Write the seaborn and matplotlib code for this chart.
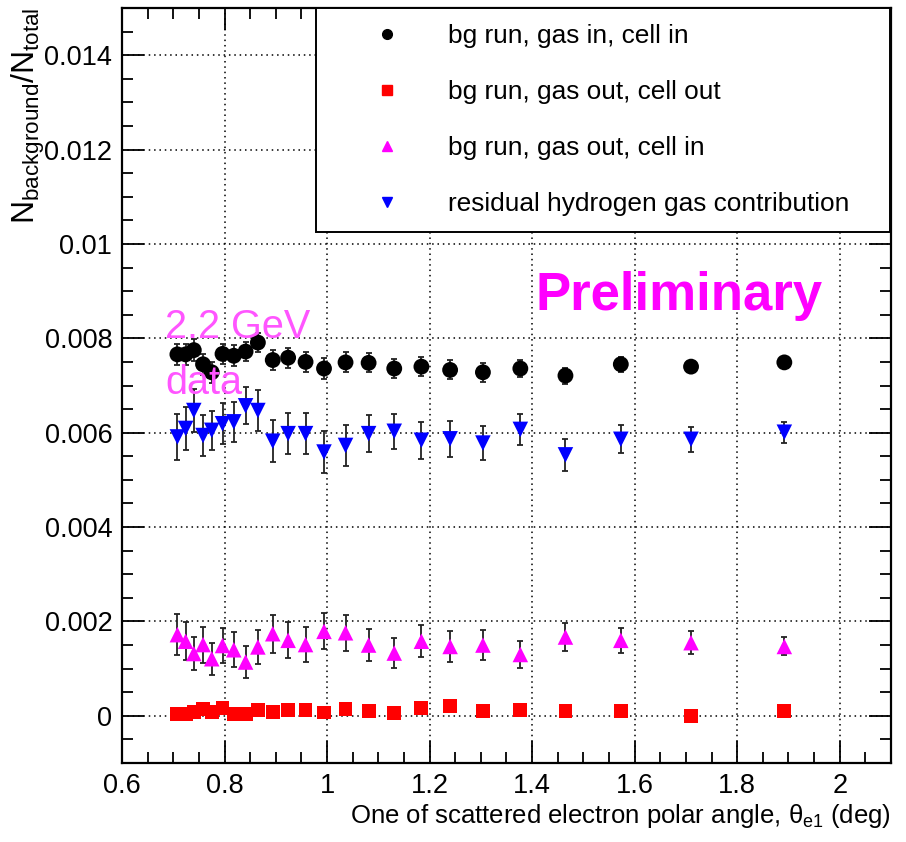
import numpy as np
import pandas as pd
import matplotlib
matplotlib.use("Agg")
import matplotlib.pyplot as plt
from matplotlib.lines import Line2D
from matplotlib.ticker import MultipleLocator
import seaborn as sns

# scattered electron polar angle (deg)
theta = [0.708, 0.724, 0.740, 0.758, 0.775, 0.796, 0.818, 0.841, 0.865, 0.894, 0.924, 0.958,
         0.994, 1.036, 1.081, 1.131, 1.184, 1.240, 1.304, 1.377, 1.465, 1.573, 1.710, 1.892]

# bg run, gas in, cell in
gas_in_cell_in = [0.00766, 0.00766, 0.00775, 0.00745, 0.00728, 0.00767, 0.00763, 0.00772,
                  0.00791, 0.00754, 0.00759, 0.00750, 0.00736, 0.00749, 0.00748, 0.00736,
                  0.00740, 0.00733, 0.00728, 0.00736, 0.00721, 0.00745, 0.00740, 0.00749]
gas_in_cell_in_err = [0.00023, 0.00023, 0.00023, 0.00022, 0.00022, 0.00022, 0.00022, 0.00021,
                      0.00021, 0.00022, 0.00021, 0.00021, 0.00022, 0.00021, 0.00020, 0.00020,
                      0.00020, 0.00020, 0.00020, 0.00019, 0.00017, 0.00016, 0.00010, 0.00010]

# bg run, gas out, cell out
gas_out_cell_out = [0.00004, 0.00004, 0.00009, 0.00014, 0.00009, 0.00017, 0.00004, 0.00004,
                    0.00013, 0.00009, 0.00012, 0.00012, 0.00007, 0.00014, 0.00011, 0.00006,
                    0.00017, 0.00020, 0.00011, 0.00013, 0.00011, 0.00011, 0.00000, 0.00011]

# bg run, gas out, cell in
gas_out_cell_in = [0.00172, 0.00158, 0.00132, 0.00151, 0.00121, 0.00149, 0.00140, 0.00114,
                   0.00146, 0.00174, 0.00160, 0.00151, 0.00179, 0.00176, 0.00150, 0.00133,
                   0.00158, 0.00147, 0.00150, 0.00130, 0.00167, 0.00160, 0.00155, 0.00147]
gas_out_cell_in_err = [0.00043, 0.00040, 0.00035, 0.00038, 0.00034, 0.00038, 0.00037, 0.00033,
                       0.00036, 0.00040, 0.00038, 0.00037, 0.00038, 0.00038, 0.00034, 0.00031,
                       0.00034, 0.00033, 0.00032, 0.00028, 0.00030, 0.00026, 0.00024, 0.00019]

# residual hydrogen gas contribution
residual_h2 = [0.00591, 0.00609, 0.00647, 0.00594, 0.00605, 0.00619, 0.00623, 0.00657,
               0.00647, 0.00582, 0.00598, 0.00598, 0.00559, 0.00573, 0.00598, 0.00603,
               0.00584, 0.00587, 0.00578, 0.00607, 0.00553, 0.00586, 0.00586, 0.00601]
residual_h2_err = [0.00048, 0.00046, 0.00045, 0.00044, 0.00041, 0.00043, 0.00043, 0.00039,
                   0.00043, 0.00045, 0.00044, 0.00043, 0.00044, 0.00043, 0.00039, 0.00037,
                   0.00039, 0.00038, 0.00036, 0.00033, 0.00034, 0.00030, 0.00027, 0.00022]

labels = ["bg run, gas in, cell in", "bg run, gas out, cell out",
          "bg run, gas out, cell in", "residual hydrogen gas contribution"]

sns.set_theme(style="ticks")
plt.rcParams['font.family'] = ['Liberation Sans', 'DejaVu Sans']
plt.rcParams['mathtext.fontset'] = 'custom'
plt.rcParams['mathtext.rm'] = 'Liberation Sans'
plt.rcParams['mathtext.it'] = 'Liberation Sans'
plt.rcParams['text.color'] = 'black'

fig = plt.figure(figsize=(9.06, 8.42), dpi=100)
ax = fig.add_axes([0.1347, 0.0938, 0.8487, 0.8967])

series = [
    (gas_in_cell_in, gas_in_cell_in_err, "black", "o", 130),
    (gas_out_cell_out, None, "#ff0000", "s", 100),
    (gas_out_cell_in, gas_out_cell_in_err, "#ff00ff", "^", 125),
    (residual_h2, residual_h2_err, "#0000ff", "v", 125),
]

for (vals, errs, col, mk, sz), lab in zip(series, labels):
    if errs is not None:
        ax.errorbar(theta, vals, yerr=errs, fmt="none", ecolor="#222222",
                    elinewidth=1.3, capsize=2.5, capthick=1.3, zorder=3)
    df = pd.DataFrame({"theta": theta, "ratio": vals})
    sns.scatterplot(data=df, x="theta", y="ratio", ax=ax, color=col, marker=mk,
                    s=sz, edgecolor="none", linewidth=0, zorder=4, legend=False)

ax.set_xlim(0.6, 2.1)
ax.set_ylim(-0.001, 0.015)
ax.xaxis.set_minor_locator(MultipleLocator(0.05))
ax.yaxis.set_minor_locator(MultipleLocator(0.0005))
ax.set_xticks([0.6, 0.8, 1.0, 1.2, 1.4, 1.6, 1.8, 2.0])
ax.set_xticklabels(["0.6", "0.8", "1", "1.2", "1.4", "1.6", "1.8", "2"])
ax.set_yticks([0, 0.002, 0.004, 0.006, 0.008, 0.01, 0.012, 0.014])
ax.set_yticklabels(["0", "0.002", "0.004", "0.006", "0.008", "0.01", "0.012", "0.014"])

ax.tick_params(which="both", direction="in", top=True, right=True, colors="black",
               labelsize=19.5, width=1.3)
ax.tick_params(which="major", length=16, pad=7)
ax.tick_params(which="minor", length=8)
for sp in ax.spines.values():
    sp.set_linewidth(1.6)
    sp.set_color("black")

ax.grid(True, which="major", color="black", linestyle=(0, (1, 2.5)), linewidth=1.1, zorder=1)
ax.set_axisbelow(True)

ax.set_xlabel(r"One of scattered electron polar angle, $\theta_{\mathregular{e1}}$ (deg)",
              fontsize=18.5, loc="right", labelpad=2, color="black")
ax.set_ylabel(r"$\mathregular{N_{background}/N_{total}}$", fontsize=23, loc="top",
              color="black")
ax.yaxis.set_label_coords(-0.098, 1.0)

handles = [Line2D([], [], linestyle="none", marker=mk, color=col, markersize=7)
           for (_, _, col, mk, _) in series]
leg = ax.legend(handles, labels, loc="upper left", bbox_to_anchor=(0.252, 1.0, 0.747, 0.0),
                mode="expand", borderaxespad=0, fontsize=18.9, frameon=True, fancybox=False,
                edgecolor="black", handlelength=4.2, handletextpad=0.25, labelspacing=1.22,
                borderpad=0.6)
leg.get_frame().set_linewidth(1.4)
leg.get_frame().set_alpha(1)
leg.set_zorder(6)

ax.text(1.407, 0.0086, "Preliminary", color="#ff00ff", fontsize=38, fontweight="bold",
        ha="left", va="baseline", zorder=5)
ax.text(0.684, 0.0080, "2.2 GeV", color="#ff55ff", fontsize=28.5, ha="left", va="baseline", zorder=5)
ax.text(0.684, 0.00683, "data", color="#ff55ff", fontsize=28.5, ha="left", va="baseline", zorder=5)

fig.savefig("out.png", dpi=100, facecolor="white")
